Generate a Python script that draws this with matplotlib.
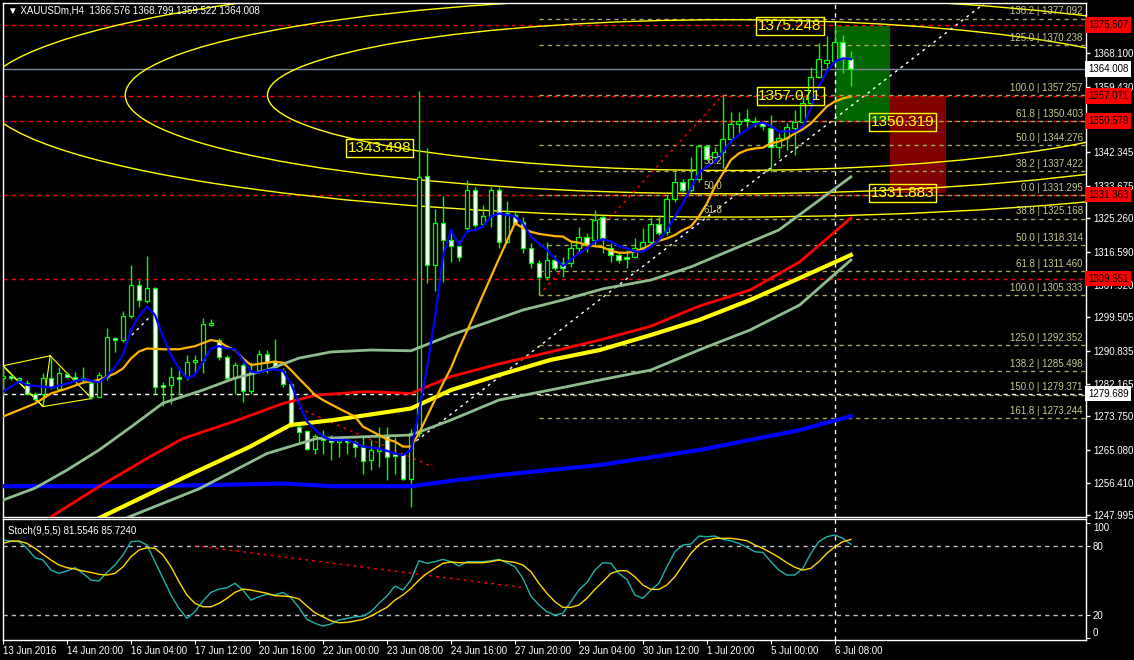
import matplotlib
matplotlib.use("Agg")
import matplotlib.pyplot as plt
from matplotlib.patches import Ellipse, Rectangle
import numpy as np

plt.rcParams['font.family'] = ['Liberation Sans', 'DejaVu Sans']

# H4 bars, index 0..106
tick_bars = [0, 8, 16, 24, 32, 40, 48, 56, 64, 72, 80, 88, 96, 104]
tick_labels = ["13 Jun 2016", "14 Jun 20:00", "16 Jun 04:00", "17 Jun 12:00",
               "20 Jun 16:00", "22 Jun 00:00", "23 Jun 08:00", "24 Jun 16:00",
               "27 Jun 20:00", "29 Jun 04:00", "30 Jun 12:00", "1 Jul 20:00",
               "5 Jul 00:00", "6 Jul 08:00"]

opens = [1283.7, 1284.2, 1283.1, 1282.3, 1279.7, 1279.6, 1283.6, 1281.0, 1284.8, 1284.1,
         1283.2, 1282.3, 1278.9, 1284.1, 1294.2, 1293.6, 1299.9, 1307.8, 1303.8, 1307.0,
         1281.9, 1281.9, 1284.1, 1283.9, 1288.0, 1288.4, 1297.6, 1293.6, 1289.1, 1283.6,
         1287.1, 1280.4, 1285.4, 1289.9, 1288.0, 1285.6, 1282.2, 1271.1, 1269.9, 1265.2,
         1268.6, 1267.8, 1267.2, 1267.6, 1267.0, 1265.7, 1262.4, 1264.8, 1268.9, 1264.1,
         1264.1, 1257.4, 1269.5, 1336.2, 1313.1, 1324.0, 1319.6, 1318.0, 1322.7, 1332.6,
         1323.8, 1325.8, 1332.6, 1319.1, 1326.1, 1324.3, 1317.5, 1313.6, 1310.0, 1314.4,
         1313.6, 1313.6, 1317.5, 1320.4, 1319.6, 1325.6, 1317.5, 1315.7, 1315.2, 1315.2,
         1317.5, 1319.1, 1323.8, 1321.7, 1330.3, 1334.7, 1332.6, 1335.5, 1344.0, 1341.2,
         1342.5, 1345.9, 1349.8, 1351.1, 1350.5, 1350.0, 1348.7, 1343.8, 1346.1, 1348.7,
         1350.3, 1355.2, 1362.0, 1365.6, 1366.1, 1371.1, 1366.576]
highs = [1286.8, 1284.9, 1284.1, 1283.2, 1280.2, 1284.9, 1288.8, 1286.7, 1285.4, 1285.4,
         1286.7, 1283.2, 1285.4, 1296.6, 1294.5, 1301.1, 1313.1, 1309.2, 1315.4, 1307.5,
         1282.8, 1286.7, 1286.7, 1289.7, 1289.7, 1299.2, 1299.0, 1294.0, 1289.7, 1288.0,
         1287.5, 1288.0, 1291.0, 1291.0, 1293.9, 1286.2, 1282.8, 1271.5, 1270.2, 1269.3,
         1270.2, 1268.9, 1268.0, 1268.0, 1267.6, 1268.9, 1267.6, 1271.1, 1271.1, 1268.5,
         1264.1, 1270.6, 1358.2, 1343.5, 1327.7, 1331.0, 1322.2, 1319.3, 1335.2, 1333.4,
         1328.7, 1333.4, 1333.4, 1329.7, 1326.9, 1325.6, 1318.8, 1314.4, 1319.1, 1315.7,
         1315.2, 1319.1, 1323.0, 1321.4, 1327.4, 1326.1, 1318.8, 1316.5, 1317.0, 1320.1,
         1322.7, 1325.6, 1326.1, 1331.3, 1337.3, 1335.5, 1341.2, 1344.3, 1344.3, 1343.8,
         1357.07, 1352.9, 1352.9, 1353.7, 1351.6, 1350.5, 1352.1, 1347.4, 1350.0, 1353.4,
         1356.8, 1364.6, 1370.8, 1372.6, 1375.248, 1372.9, 1368.799]
lows = [1279.3, 1283.2, 1282.8, 1279.3, 1277.8, 1276.7, 1281.0, 1280.6, 1283.9, 1283.2,
        1282.8, 1278.4, 1278.7, 1283.2, 1290.6, 1293.2, 1299.2, 1302.3, 1303.1, 1279.6,
        1276.5, 1277.1, 1279.3, 1283.2, 1284.9, 1284.9, 1297.2, 1288.4, 1283.2, 1279.7,
        1277.6, 1279.7, 1284.9, 1284.9, 1286.2, 1281.5, 1271.1, 1266.7, 1265.0, 1264.1,
        1264.1, 1262.4, 1263.3, 1264.1, 1263.3, 1258.9, 1259.8, 1260.7, 1257.2, 1258.9,
        1257.2, 1250.3, 1268.4, 1308.4, 1306.3, 1308.7, 1313.9, 1314.1, 1322.2, 1323.0,
        1323.0, 1323.0, 1317.5, 1318.8, 1323.5, 1316.2, 1312.3, 1305.333, 1309.2, 1311.8,
        1310.0, 1312.6, 1316.2, 1316.5, 1317.8, 1316.2, 1313.9, 1313.6, 1312.3, 1314.9,
        1316.5, 1318.3, 1320.9, 1320.9, 1329.5, 1332.1, 1332.1, 1334.7, 1340.4, 1340.4,
        1338.3, 1345.1, 1347.4, 1349.0, 1349.0, 1348.2, 1337.3, 1340.9, 1343.0, 1341.7,
        1350.0, 1354.7, 1361.7, 1363.8, 1365.9, 1363.0, 1359.522]
closes = [1284.2, 1283.7, 1283.6, 1279.7, 1278.2, 1283.6, 1281.3, 1284.9, 1284.1, 1283.5,
          1283.6, 1278.9, 1284.5, 1294.3, 1293.6, 1299.9, 1307.9, 1304.0, 1307.0, 1281.5,
          1281.5, 1284.1, 1283.5, 1288.0, 1288.4, 1297.7, 1297.9, 1289.1, 1283.6, 1287.0,
          1280.4, 1285.4, 1289.9, 1288.0, 1286.7, 1282.2, 1271.9, 1269.8, 1265.2, 1268.6,
          1267.6, 1267.2, 1267.6, 1267.0, 1265.7, 1262.2, 1265.0, 1265.2, 1263.3, 1263.4,
          1257.4, 1269.5, 1336.1, 1313.1, 1324.0, 1319.6, 1318.0, 1315.2, 1332.6, 1323.5,
          1325.8, 1332.6, 1319.1, 1326.6, 1324.0, 1317.5, 1313.6, 1310.0, 1314.4, 1312.3,
          1312.3, 1317.5, 1320.4, 1318.3, 1324.8, 1320.1, 1315.7, 1314.4, 1314.7, 1317.5,
          1319.1, 1323.8, 1321.4, 1330.3, 1334.7, 1332.6, 1335.5, 1344.0, 1340.7, 1342.5,
          1345.9, 1349.8, 1350.5, 1350.5, 1350.3, 1349.2, 1343.8, 1346.1, 1349.0, 1350.3,
          1355.2, 1362.0, 1366.7, 1366.4, 1371.1, 1366.7, 1364.008]

# moving averages at sample bars
fast_bar = [0, 2, 3, 5, 6, 8, 10, 12, 13, 14, 15, 16, 17, 18, 19, 20, 21, 22, 23, 24, 25, 26, 27, 28,
            29, 30, 31, 32, 33, 34, 35, 36, 37, 38, 39, 40, 41, 43, 44, 45, 47, 48, 49, 50, 51, 52,
            53, 54, 55, 56, 57, 58, 59, 60, 61, 62, 63, 64, 65, 66, 67, 68, 69, 70, 71, 72, 73, 74,
            75, 76, 77, 78, 79, 80, 81, 82, 83, 84, 85, 86, 87, 88, 89, 90, 91, 92, 93, 94, 95, 96,
            97, 98, 99, 100, 101, 102, 103, 104, 105, 106]
fast_val = [1280.2, 1282.8, 1281.9, 1281.5, 1281.2, 1282.3, 1283.4, 1282.6, 1284.1, 1286.7, 1289.7,
            1296.2, 1299.8, 1302.3, 1300.1, 1294.5, 1289.7, 1286.2, 1283.6, 1284.5, 1288.0, 1291.4,
            1292.0, 1291.4, 1291.2, 1288.4, 1285.4, 1285.1, 1285.8, 1286.0, 1285.6, 1282.3, 1277.1,
            1272.4, 1270.4, 1268.5, 1267.6, 1267.6, 1266.9, 1265.9, 1265.4, 1264.8, 1264.1, 1263.7,
            1265.0, 1274.9, 1286.3, 1299.3, 1315.2, 1322.2, 1318.3, 1321.8, 1322.2, 1323.1, 1325.7,
            1326.5, 1326.1, 1325.7, 1323.9, 1320.5, 1318.7, 1317.0, 1314.9, 1312.8, 1314.6, 1316.1,
            1317.4, 1319.2, 1319.8, 1319.2, 1318.0, 1317.4, 1316.6, 1316.6, 1317.9, 1319.6, 1322.2,
            1325.7, 1329.1, 1333.1, 1337.0, 1338.7, 1340.0, 1342.6, 1345.2, 1346.9, 1348.2, 1349.7,
            1350.1, 1349.2, 1347.8, 1347.8, 1347.8, 1349.1, 1353.8, 1359.5, 1363.4, 1366.0, 1366.8,
            1366.6]

mid_bar = [0, 2, 4, 6, 8, 10, 12, 13, 14, 15, 16, 17, 18, 20, 22, 24, 26, 27, 28, 29, 30, 31, 32, 34,
           35, 36, 37, 38, 39, 40, 42, 44, 45, 47, 48, 49, 50, 51, 52, 53, 54, 55, 56, 57, 58, 59, 60,
           61, 62, 63, 64, 65, 66, 67, 68, 69, 70, 71, 72, 73, 74, 75, 76, 77, 78, 79, 80, 81, 82, 83,
           84, 85, 86, 87, 88, 89, 90, 91, 92, 93, 94, 95, 96, 97, 98, 99, 100, 101, 102, 103, 104,
           105, 106]
mid_val = [1273.7, 1275.4, 1277.1, 1279.7, 1281.0, 1282.5, 1283.2, 1284.1, 1284.9, 1286.2, 1288.8,
           1290.6, 1291.4, 1291.2, 1291.2, 1292.0, 1293.6, 1293.2, 1291.9, 1291.0, 1288.8, 1287.1,
           1287.4, 1288.0, 1287.7, 1285.8, 1283.6, 1281.5, 1279.3, 1278.0, 1275.8, 1273.7, 1271.1,
           1268.9, 1267.8, 1267.2, 1265.9, 1265.9, 1269.3, 1273.7, 1278.0, 1282.3, 1286.3, 1291.3,
           1295.9, 1300.6, 1305.3, 1310.0, 1314.7, 1319.3, 1324.0, 1322.7, 1321.7, 1321.2, 1320.9,
           1320.6, 1320.5, 1319.2, 1318.9, 1318.3, 1318.0, 1317.7, 1316.8, 1316.3, 1316.3, 1316.6,
           1317.4, 1318.3, 1319.4, 1320.0, 1320.9, 1322.2, 1323.1, 1325.7, 1329.1, 1333.5, 1336.9,
           1340.4, 1342.1, 1343.0, 1343.4, 1343.6, 1344.7, 1345.2, 1346.0, 1347.3, 1348.4, 1349.9,
           1352.1, 1354.3, 1355.6, 1356.4, 1356.9]

sage_hi_bar = [0, 4, 8, 12, 16, 20, 25, 29, 33, 37, 41, 46, 51, 56, 65, 70, 75, 81, 86, 97, 106]
sage_hi_val = [1252.0, 1255.1, 1259.8, 1265.0, 1271.0, 1277.2, 1280.6, 1283.7, 1285.8, 1288.9, 1290.5,
               1291.0, 1290.8, 1294.9, 1301.4, 1304.0, 1306.9, 1309.2, 1312.6, 1322.2, 1336.0]

red_bar = [5.5, 12, 18.4, 22.5, 28.8, 35, 39.2, 45.5, 51, 56, 62, 68.4, 74.6, 81, 87, 93.4, 99.6, 106]
red_val = [1247.0, 1255.5, 1263.3, 1268.0, 1272.4, 1277.1, 1279.3, 1280.2, 1279.7, 1284.1, 1287.4,
           1290.5, 1293.6, 1297.2, 1302.4, 1306.6, 1313.9, 1325.3]

yel_bar = [11.7, 18.4, 24.6, 30.9, 35.9, 41.3, 51, 56, 62, 68.4, 74.6, 81, 87, 93.4, 99.6, 106]
yel_val = [1247.0, 1253.7, 1259.8, 1265.9, 1271.5, 1272.8, 1275.8, 1280.6, 1284.5, 1288.4, 1291.0,
           1294.9, 1298.8, 1304.0, 1309.7, 1315.7]

sage_lo_bar = [15, 24.6, 33, 39.2, 51, 56, 62, 68.4, 74.6, 81, 87, 93.4, 99.6, 106]
sage_lo_val = [1247.0, 1255.0, 1264.1, 1268.0, 1268.9, 1272.8, 1278.0, 1280.6, 1283.2, 1285.8,
               1291.0, 1296.2, 1302.7, 1314.4]

slow_bar = [0, 18.4, 35, 41.3, 51, 56, 62, 74.6, 87, 99.6, 106]
slow_val = [1255.6, 1255.6, 1256.3, 1255.6, 1255.6, 1257.0, 1258.5, 1261.1, 1265.0, 1270.2, 1273.8]

# stochastic (9,5,5)
stoch_k = [85.2, 84.3, 83.8, 78.0, 69.8, 67.8, 59.1, 56.2, 58.3, 61.2, 56.2, 50.4, 49.6, 57.1, 63.5,
           72.2, 83.8, 84.3, 80.9, 66.4, 51.9, 37.4, 25.8, 17.1, 22.9, 32.2, 39.7, 42.6, 43.7, 47.6,
           41.7, 33.0, 35.9, 38.0, 37.4, 39.7, 35.2, 26.5, 16.2, 12.8, 10.4, 12.2, 15.7, 17.1, 18.5,
           19.1, 22.9, 30.1, 36.5, 45.2, 41.7, 50.4, 67.2, 65.0, 66.4, 68.4, 66.4, 62.6, 66.4, 66.4,
           66.4, 67.2, 68.4, 65.5, 62.0, 51.9, 36.5, 28.7, 22.9, 20.0, 21.5, 31.6, 41.7, 48.3, 59.1,
           65.5, 65.0, 56.2, 51.0, 37.4, 34.5, 41.7, 47.6, 62.0, 75.0, 80.9, 81.7, 88.7, 88.1, 88.7,
           85.8, 84.6, 82.3, 78.9, 75.0, 74.5, 66.4, 59.1, 54.8, 54.8, 60.6, 73.6, 83.8, 88.1, 89.6,
           86.7, 81.55]
stoch_d = [82.3, 84.3, 84.3, 82.3, 78.0, 72.8, 67.8, 63.5, 61.2, 60.0, 58.3, 57.1, 55.4, 54.8, 56.2,
           62.0, 70.7, 76.5, 78.5, 78.0, 72.2, 62.0, 49.0, 37.4, 30.1, 27.2, 27.2, 30.1, 34.5, 39.7,
           42.6, 41.7, 40.3, 38.9, 36.8, 36.5, 35.9, 34.0, 27.8, 22.0, 18.5, 15.0, 13.3, 13.6, 14.8,
           16.2, 19.1, 22.9, 26.7, 33.0, 37.4, 43.2, 50.4, 56.2, 60.6, 65.0, 66.1, 65.5, 65.5, 65.5,
           65.5, 66.4, 67.8, 66.7, 65.8, 63.5, 57.7, 47.6, 38.9, 31.6, 26.7, 26.7, 28.7, 34.5, 42.3,
           49.0, 56.2, 58.5, 58.5, 53.3, 46.1, 42.3, 42.3, 46.1, 53.3, 63.5, 73.6, 80.9, 85.2, 86.7,
           86.7, 86.7, 85.8, 84.6, 80.9, 78.0, 74.2, 70.2, 65.5, 61.5, 59.1, 60.6, 66.4, 73.6, 79.4,
           83.8, 85.72]

fib_pct = ["138.2", "125.0", "100.0", "61.8", "50.0", "38.2", "0.0", "38.8", "50.0", "61.8",
           "100.0", "125.0", "138.2", "150.0", "161.8"]
fib_price = [1377.092, 1370.238, 1357.257, 1350.403, 1344.276, 1337.422, 1331.295, 1325.168,
             1318.314, 1311.460, 1305.333, 1292.352, 1285.498, 1279.371, 1273.244]
fib_start = 67

red_levels = [1375.507, 1357.071, 1350.579, 1331.363, 1309.551]
bid = 1364.008
white_level = 1279.689
axis_ticks = [1247.995, 1256.410, 1265.080, 1273.750, 1282.165, 1290.835, 1299.505, 1307.920,
              1316.590, 1325.260, 1333.675, 1342.345, 1359.430, 1368.100]

boxed_labels = [(98.4, 1375.248), (98.4, 1357.071), (47.1, 1343.498), (112.5, 1350.319), (112.5, 1331.883)]

W, H = 1134, 660
fig = plt.figure(figsize=(W / 100, H / 100), dpi=100, facecolor='black')
ax = fig.add_axes([3 / W, 1 - 517 / H, 1083 / W, 514 / H], facecolor='black')
st = fig.add_axes([3 / W, 1 - 640 / H, 1083 / W, 121 / H], facecolor='black')
for a in (ax, st):
    a.set_xlim(0, 135.4)
    for s in a.spines.values():
        s.set_color('white')
        s.set_linewidth(1)
ax.set_ylim(1247.6, 1381.2)
st.set_ylim(-1.7, 103.5)

# horizontal levels
for lv in red_levels:
    ax.axhline(lv, color='#ff0000', lw=1, dashes=(3, 3), zorder=1.5)
ax.axhline(bid, color='#778899', lw=1, zorder=1.5)
ax.axhline(white_level, color='white', lw=1, dashes=(3, 3), zorder=1.5)

# fib levels
for pct, pr in zip(fib_pct, fib_price):
    ax.plot([fib_start, 136], [pr, pr], color='#a8a860', lw=1, dashes=(3, 3), zorder=1.6)
    ax.text(0.997, pr + 0.6, f"{pct} | {pr:.3f}", transform=ax.get_yaxis_transform(),
            ha='right', va='bottom', color='#c8c890', fontsize=7, zorder=6)

# boxes
ax.add_patch(Rectangle((104, 1350.319), 6.95, 1375.248 - 1350.319, facecolor='#006400',
                       edgecolor='none', zorder=1))
ax.add_patch(Rectangle((110.95, 1331.883), 7.0, 1357.071 - 1331.883, facecolor='#800000',
                       edgecolor='none', zorder=1))

# fibonacci ellipses
for k in (1.0, 0.809, 0.618):
    ax.add_patch(Ellipse((90.6, 1357.26), 186.2 * k, 63.4 * k, facecolor='none',
                         edgecolor='#ffff00', lw=1, zorder=2))
for txt, pr in (("38.2", 1340.1), ("50.0", 1333.6), ("61.8", 1327.4)):
    ax.text(88.8, pr, txt, color='#c8c890', fontsize=7, ha='center', va='center', zorder=6)

# trend lines
ax.plot([51, 122.75], [1266.3, 1381.2], color='white', lw=1, dashes=(2, 3), zorder=2)
ax.plot([15.5, 18.4], [1293.6, 1299.7], color='white', lw=1, dashes=(2, 3), zorder=2)
ax.plot([67, 90], [1305.333, 1357.257], color='#ff0000', lw=1, dashes=(2, 3), zorder=2)
ax.plot([37, 53.75], [1275.9, 1260.6], color='#ff0000', lw=1, dashes=(2, 3), zorder=2)
# pattern at the left
pat_x = [0.0, 5.9, 5.0, 0.0, 5.0, 11.1, 5.9]
pat_y = [1286.9, 1289.5, 1276.3, 1286.9, 1276.3, 1278.4, 1289.5]
ax.plot(pat_x, pat_y, color='#ffff00', lw=0.8, zorder=2)

# candles
bars = np.arange(len(closes))
o = np.array(opens)
c = np.array(closes)
up = c >= o
ax.vlines(bars, lows, highs, color='#00ff00', lw=1, zorder=3)
body_lo = np.minimum(o, c)
body_h = np.maximum(np.abs(c - o), 0.35)
ax.bar(bars, body_h, bottom=body_lo, width=0.6, color=np.where(up, 'black', 'white'),
       edgecolor='#00ff00', linewidth=0.9, zorder=4)

# moving averages
ax.plot(slow_bar, slow_val, color='#0000ff', lw=3, zorder=5)
ax.plot(sage_lo_bar, sage_lo_val, color='#8fbc8f', lw=2, zorder=5)
ax.plot(sage_hi_bar, sage_hi_val, color='#8fbc8f', lw=2, zorder=5)
ax.plot(red_bar, red_val, color='#ff0000', lw=2, zorder=5)
ax.plot(yel_bar, yel_val, color='#ffff00', lw=3, zorder=5)
ax.plot(mid_bar, mid_val, color='#ffb400', lw=1.6, zorder=5)
ax.plot(fast_bar, fast_val, color='#0000ff', lw=1.6, zorder=5)

ax.axvline(104, color='white', lw=1, dashes=(3, 3), zorder=2)

for bx, pr in boxed_labels:
    ax.text(bx, pr, f"{pr:.3f}", color='#ffff00', fontsize=11, ha='center', va='center', zorder=7,
            bbox=dict(boxstyle='square,pad=0.12', facecolor='none', edgecolor='#ffff00', lw=1))

# right price axis
ax.yaxis.tick_right()
ax.set_yticks(axis_ticks)
ax.set_yticklabels([f"{t:.3f}" for t in axis_ticks])
ax.tick_params(axis='y', colors='white', labelsize=7, length=3, pad=2, width=1)
ax.tick_params(axis='x', bottom=False, labelbottom=False)
ytr = ax.get_yaxis_transform()
for lv in red_levels:
    ax.text(1.0018, lv, f"{lv:.3f}", transform=ytr, ha='left', va='center', fontsize=7,
            color='black', zorder=8, bbox=dict(boxstyle='square,pad=0.28', facecolor='#ff0000',
                                               edgecolor='none'))
for lv in (bid, white_level):
    ax.text(1.0018, lv, f"{lv:.3f}", transform=ytr, ha='left', va='center', fontsize=7,
            color='black', zorder=8, bbox=dict(boxstyle='square,pad=0.28', facecolor='white',
                                               edgecolor='none'))

ax.text(0.0046, 0.986, "\u25bc XAUUSDm,H4  1366.576 1368.799 1359.522 1364.008",
        transform=ax.transAxes, color='white', fontsize=7, va='center', ha='left', zorder=9)

# stochastic panel
st.axhline(80, color='#c0c0c0', lw=1, dashes=(3, 3))
st.axhline(20, color='#c0c0c0', lw=1, dashes=(3, 3))
st.plot([24, 64.8], [80.3, 44.1], color='#ff0000', lw=1, dashes=(2, 3))
st.plot(bars, stoch_k, color='#20b2aa', lw=1)
st.plot(bars, stoch_d, color='#ffd700', lw=1)
st.axvline(104, color='white', lw=1, dashes=(3, 3))
st.text(0.0046, 0.9, "Stoch(9,5,5) 81.5546 85.7240", transform=st.transAxes, color='white',
        fontsize=7, va='center', ha='left')
st.yaxis.tick_right()
st.set_yticks([0, 20, 80, 100])
st.set_yticklabels(["0", "20", "80", "100"])
st.tick_params(axis='y', colors='white', labelsize=7, length=3, pad=2)
ylabs = st.get_yticklabels()
ylabs[0].set_verticalalignment('bottom')
ylabs[3].set_verticalalignment('top')
st.set_xticks(tick_bars)
st.set_xticklabels(tick_labels)
for lab in st.get_xticklabels():
    lab.set_horizontalalignment('left')
st.tick_params(axis='x', colors='white', labelsize=7, length=3, pad=1)

fig.savefig("out.png", dpi=100, facecolor='black')
